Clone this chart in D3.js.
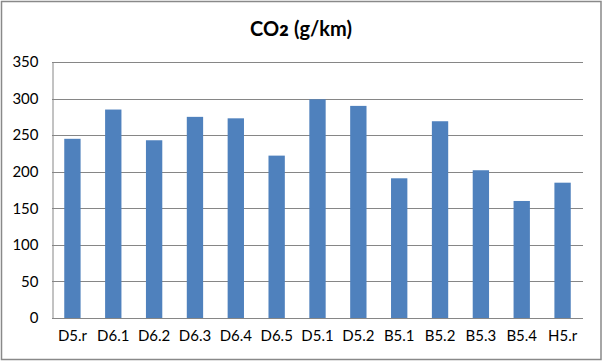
<!DOCTYPE html>
<html><head><meta charset="utf-8">
<script src="https://cdn.jsdelivr.net/npm/d3@7"></script>
<style>body{margin:0;background:#fff}svg{display:block}</style>
</head><body>
<svg id="c" width="603" height="362"></svg>
<script>
const categories = ["D5.r","D6.1","D6.2","D6.3","D6.4","D6.5","D5.1","D5.2","B5.1","B5.2","B5.3","B5.4","H5.r"];
const values = [245,285,243,275,273,222,299,290,191,269,202,160,185];
const yTicks = [0,50,100,150,200,250,300,350];
const titleParts = ["CO", "₂", " (g/km)"];

const svg = d3.select("#c");
const font = "Lato, 'Open Sans', sans-serif";
const m = {left:52, right:583, top:62, bottom:318};

svg.append("rect").attr("x",1.5).attr("y",1.5).attr("width",599.5).attr("height",358)
  .attr("fill","#fff").attr("stroke","#898989").attr("stroke-width",1.5);

const x = d3.scaleBand().domain(categories).range([m.left,m.right]).paddingInner(0.6).paddingOuter(0.3);
const y = d3.scaleLinear().domain([0,350]).range([m.bottom,m.top]);

// gridlines
svg.append("g").selectAll("line").data(yTicks.filter(d=>d>0)).join("line")
  .attr("x1",m.left).attr("x2",m.right)
  .attr("y1",d=>Math.round(y(d))+0.5).attr("y2",d=>Math.round(y(d))+0.5)
  .attr("stroke","#868686").attr("stroke-width",1);

// bars
svg.append("g").selectAll("rect").data(values).join("rect")
  .attr("x",(d,i)=>x(categories[i]))
  .attr("width",x.bandwidth())
  .attr("y",d=>y(d))
  .attr("height",d=>y(0)-y(d))
  .attr("fill","#4F81BD");

// y axis
const ya = d3.axisLeft(y).tickValues(yTicks).tickSize(0).tickPadding(14);
const gy = svg.append("g").attr("transform",`translate(${m.left+0.5},0)`).call(ya);
gy.select(".domain").attr("stroke","#868686");
gy.selectAll("text").attr("font-family",font).attr("font-size",15).attr("fill","#000");

// x axis
const xa = d3.axisBottom(x).tickSize(0).tickPadding(12);
const gx = svg.append("g").attr("transform",`translate(0,${Math.round(m.bottom)+0.5})`).call(xa);
gx.select(".domain").attr("stroke","#868686").attr("d",`M${m.left},0H${m.right}`);
gx.selectAll("text").attr("font-family",font).attr("font-size",15).attr("fill","#000");

// title
const t = svg.append("text").attr("x",301).attr("y",36).attr("text-anchor","middle")
  .attr("font-family",font).attr("font-weight","bold").attr("font-size",20).attr("fill","#000");
t.append("tspan").text(titleParts[0]);
t.append("tspan").attr("font-size",30).attr("dy",-3).text(titleParts[1]);
t.append("tspan").attr("dy",3).text(titleParts[2]);
</script>
</body></html>
